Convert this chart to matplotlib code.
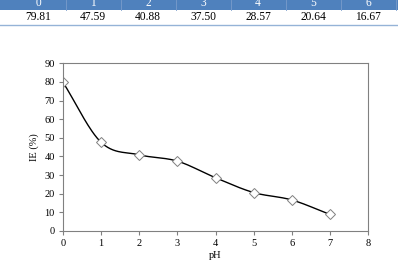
import numpy as np
import matplotlib
matplotlib.use("Agg")
import matplotlib.pyplot as plt
from matplotlib.patches import Rectangle
from matplotlib.lines import Line2D

plt.rcParams['font.family'] = ['Liberation Serif', 'DejaVu Serif']

ph = [0, 1, 2, 3, 4, 5, 6, 7]
ie = [79.81, 47.59, 40.88, 37.50, 28.57, 20.64, 16.67, 8.9]
table_head = ['0', '1', '2', '3', '4', '5', '6']
table_vals = ['79.81', '47.59', '40.88', '37.50', '28.57', '20.64', '16.67']


def catmull_rom(x, y, n=30):
    # smoothed line like the spreadsheet one
    x = np.asarray(x, float)
    y = np.asarray(y, float)
    px = np.concatenate([[2 * x[0] - x[1]], x, [2 * x[-1] - x[-2]]])
    py = np.concatenate([[2 * y[0] - y[1]], y, [2 * y[-1] - y[-2]]])
    xs, ys = [], []
    t = np.linspace(0, 1, n)
    for i in range(1, len(px) - 2):
        for p, out in ((px, xs), (py, ys)):
            p0, p1, p2, p3 = p[i - 1], p[i], p[i + 1], p[i + 2]
            out.extend(0.5 * (2 * p1 + (-p0 + p2) * t
                              + (2 * p0 - 5 * p1 + 4 * p2 - p3) * t ** 2
                              + (-p0 + 3 * p1 - 3 * p2 + p3) * t ** 3))
    return np.array(xs), np.array(ys)


W, H = 398, 269
fig = plt.figure(figsize=(W / 100, H / 100), dpi=100)

# table strip at the top (header row is cut off in the source)
fig.patches.append(Rectangle((0, 1 - 9.5 / H), 1, 9.5 / H, transform=fig.transFigure,
                             facecolor='#4F81BD', edgecolor='none'))
for i, (h, v) in enumerate(zip(table_head, table_vals)):
    cx = (38 + 55 * i) / W
    fig.text(cx, 1 - 3 / H, h, color='white', fontsize=8.3, ha='center', va='center')
    fig.text(cx, 1 - 16.5 / H, v, color='black', fontsize=8.3, ha='center', va='center')
    bx = (65.5 + 55 * i) / W
    fig.lines.append(Line2D([bx, bx], [1 - 9.5 / H, 1], transform=fig.transFigure,
                            color='#7A9CCB', lw=0.6))
fig.lines.append(Line2D([0, 1], [1 - 24.5 / H, 1 - 24.5 / H], transform=fig.transFigure,
                        color='#95B3D7', lw=1.0))

ax = fig.add_axes([63 / W, 1 - 231 / H, (368 - 63) / W, (231 - 63.3) / H])
sx, sy = catmull_rom(ph, ie)
ax.plot(sx, sy, color='black', lw=1.0)
ax.plot(ph, ie, linestyle='none', marker='D', markersize=5,
        markerfacecolor='white', markeredgecolor='#808080', markeredgewidth=0.7)

ax.set_xlim(0, 8)
ax.set_ylim(0, 90)
ax.set_xticks(range(0, 9))
ax.set_yticks(range(0, 91, 10))
for s in ax.spines.values():
    s.set_color('#808080')
    s.set_linewidth(0.8)
ax.tick_params(direction='out', length=3, width=0.8, color='#808080',
               labelsize=7.5, pad=3)
ax.set_xlabel('pH', fontsize=7.5, labelpad=2)
ax.set_ylabel('IE (%)', fontsize=7.5, labelpad=4)

fig.savefig('out.png', dpi=100)
